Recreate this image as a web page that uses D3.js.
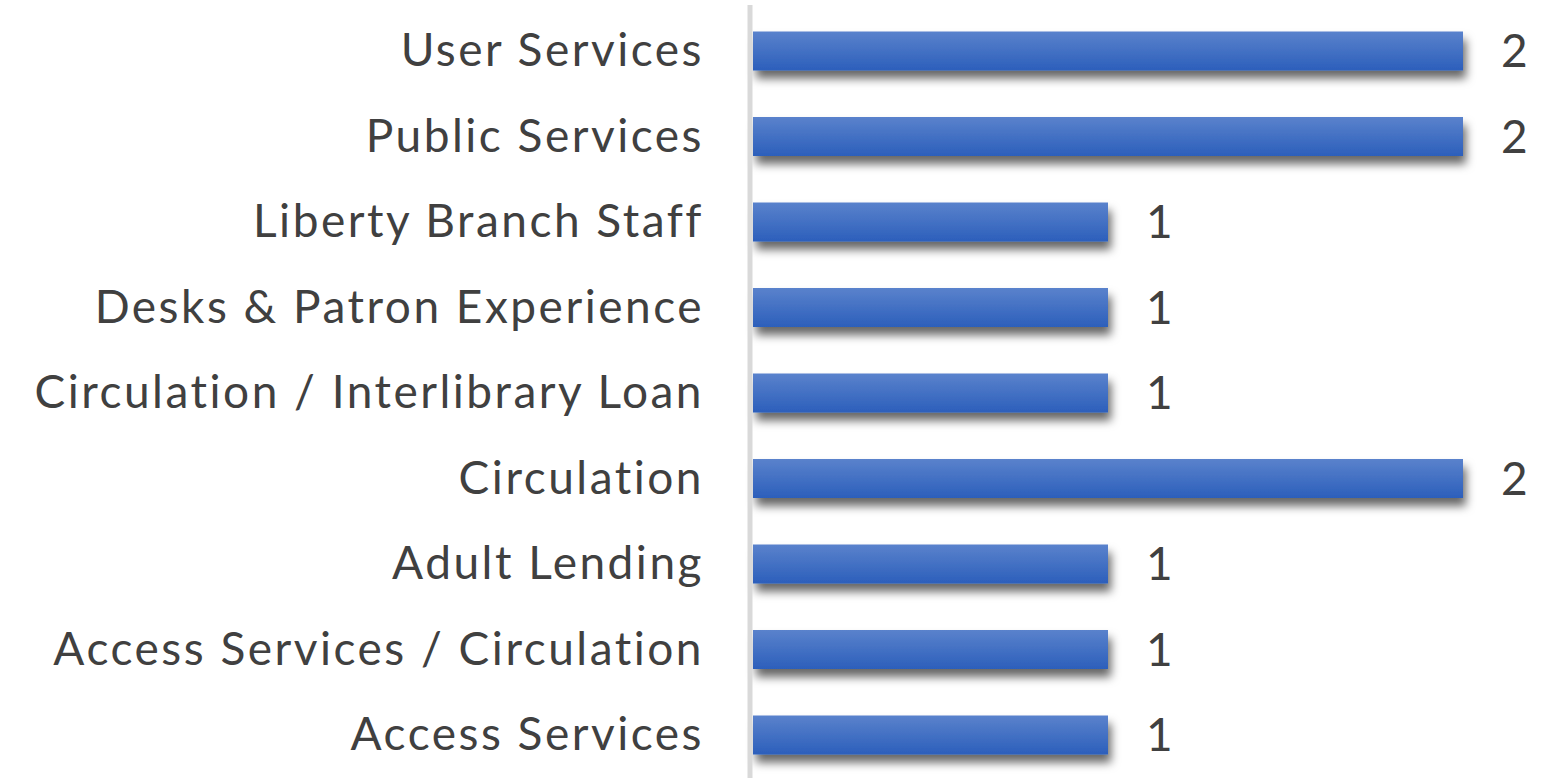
<!DOCTYPE html>
<html>
<head>
<meta charset="utf-8">
<script src="https://cdn.jsdelivr.net/npm/d3@7"></script>
<style>
  body { margin: 0; background: #fff; }
  svg { display: block; }
</style>
</head>
<body>
<div id="chart"></div>
<script>
const categories = [
  "User Services",
  "Public Services",
  "Liberty Branch Staff",
  "Desks & Patron Experience",
  "Circulation / Interlibrary Loan",
  "Circulation",
  "Adult Lending",
  "Access Services / Circulation",
  "Access Services"
];
const counts = [2, 2, 1, 1, 1, 2, 1, 1, 1];

const data = categories.map((c, i) => ({ name: c, value: counts[i] }));

const width = 1556, height = 778;

const svg = d3.select("#chart")
  .append("svg")
  .attr("width", width)
  .attr("height", height);

const defs = svg.append("defs");
const grad = defs.append("linearGradient")
  .attr("id", "barGrad")
  .attr("x1", 0).attr("y1", 0).attr("x2", 0).attr("y2", 1);
grad.append("stop").attr("offset", "0%").attr("stop-color", "#5a82cc");
grad.append("stop").attr("offset", "100%").attr("stop-color", "#2c5fbb");

const shadow = defs.append("filter")
  .attr("id", "shadow")
  .attr("x", "-10%").attr("y", "-50%")
  .attr("width", "130%").attr("height", "260%");
shadow.append("feDropShadow")
  .attr("dx", 3).attr("dy", 8)
  .attr("stdDeviation", 5)
  .attr("flood-color", "#000")
  .attr("flood-opacity", 0.6);

const x = d3.scaleLinear().domain([0, 2]).range([753, 1463]);
const y = d3.scalePoint().domain(categories).range([51, 735]);
const barH = 39;

svg.append("g")
  .selectAll("rect")
  .data(data)
  .enter()
  .append("rect")
  .attr("x", x(0))
  .attr("y", (d) => y(d.name) - barH / 2)
  .attr("width", (d) => x(d.value) - x(0))
  .attr("height", barH)
  .attr("fill", "url(#barGrad)")
  .attr("filter", "url(#shadow)");

// axis line
svg.append("line")
  .attr("x1", 750).attr("x2", 750)
  .attr("y1", 5).attr("y2", height)
  .attr("stroke", "#d9d9d9")
  .attr("stroke-width", 5);

svg.append("g")
  .selectAll("text")
  .data(data)
  .enter()
  .append("text")
  .attr("x", 704)
  .attr("y", (d) => y(d.name))
  .attr("dy", "0.33em")
  .attr("text-anchor", "end")
  .style("font-family", "Lato, 'Open Sans', sans-serif")
  .style("font-size", "46px")
  .style("letter-spacing", "2.5px")
  .style("fill", "#404040")
  .text((d) => d.name);

svg.append("g")
  .selectAll("text")
  .data(data)
  .enter()
  .append("text")
  .attr("x", (d) => x(d.value) + 38)
  .attr("y", (d) => y(d.name))
  .attr("dy", "0.35em")
  .style("font-family", "Lato, 'Open Sans', sans-serif")
  .style("font-size", "46px")
  .style("fill", "#404040")
  .text((d) => d.value);
</script>
</body>
</html>
